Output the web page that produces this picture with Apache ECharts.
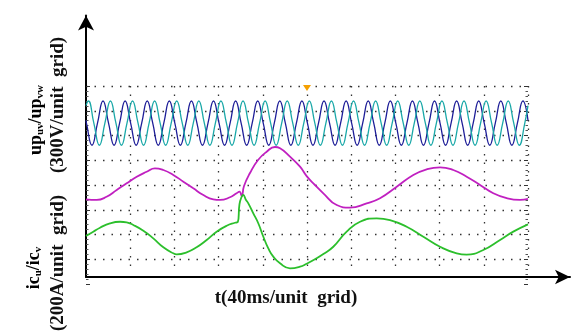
<!DOCTYPE html>
<html>
<head>
<meta charset="utf-8">
<script src="https://cdn.jsdelivr.net/npm/echarts@6/dist/echarts.min.js"></script>
<style>
  html, body { margin: 0; padding: 0; background: #fff; }
  #chart { width: 577px; height: 333px; }
</style>
</head>
<body>
<div id="chart"></div>
<script>
// time in ms (40 ms per grid), voltages in V, currents in A
const timeMin = 0
const timeMax = 400
const timeStep = 40

// line voltage up_uv  [t, V]
const upUv = [
  [0, 33],
  [0.4, 0], [5.4, -268], [10.4, 0], [15.4, 268],
  [20.4, 0], [25.4, -268], [30.4, 0], [35.4, 268],
  [40.4, 0], [45.4, -268], [50.4, 0], [55.4, 268],
  [60.4, 0], [65.4, -268], [70.4, 0], [75.4, 268],
  [80.4, 0], [85.4, -268], [90.4, 0], [95.4, 268],
  [100.4, 0], [105.4, -268], [110.4, 0], [115.4, 268],
  [120.4, 0], [125.4, -268], [130.4, 0], [135.4, 268],
  [140.4, 0], [145.4, -268], [150.4, 0], [155.4, 268],
  [160.4, 0], [165.4, -268], [170.4, 0], [175.4, 268],
  [180.4, 0], [185.4, -268], [190.4, 0], [195.4, 268],
  [200.4, 0], [205.4, -268], [210.4, 0], [215.4, 268],
  [220.4, 0], [225.4, -268], [230.4, 0], [235.4, 268],
  [240.4, 0], [245.4, -268], [250.4, 0], [255.4, 268],
  [260.4, 0], [265.4, -268], [270.4, 0], [275.4, 268],
  [280.4, 0], [285.4, -268], [290.4, 0], [295.4, 268],
  [300.4, 0], [305.4, -268], [310.4, 0], [315.4, 268],
  [320.4, 0], [325.4, -268], [330.4, 0], [335.4, 268],
  [340.4, 0], [345.4, -268], [350.4, 0], [355.4, 268],
  [360.4, 0], [365.4, -268], [370.4, 0], [375.4, 268],
  [380.4, 0], [385.4, -268], [390.4, 0], [395.4, 268],
  [400, 34]
]

// line voltage up_vw  [t, V]
const upVw = [
  [0, 212],
  [2.1, 268], [7.1, 0], [12.1, -268], [17.1, 0],
  [22.1, 268], [27.1, 0], [32.1, -268], [37.1, 0],
  [42.1, 268], [47.1, 0], [52.1, -268], [57.1, 0],
  [62.1, 268], [67.1, 0], [72.1, -268], [77.1, 0],
  [82.1, 268], [87.1, 0], [92.1, -268], [97.1, 0],
  [102.1, 268], [107.1, 0], [112.1, -268], [117.1, 0],
  [122.1, 268], [127.1, 0], [132.1, -268], [137.1, 0],
  [142.1, 268], [147.1, 0], [152.1, -268], [157.1, 0],
  [162.1, 268], [167.1, 0], [172.1, -268], [177.1, 0],
  [182.1, 268], [187.1, 0], [192.1, -268], [197.1, 0],
  [202.1, 268], [207.1, 0], [212.1, -268], [217.1, 0],
  [222.1, 268], [227.1, 0], [232.1, -268], [237.1, 0],
  [242.1, 268], [247.1, 0], [252.1, -268], [257.1, 0],
  [262.1, 268], [267.1, 0], [272.1, -268], [277.1, 0],
  [282.1, 268], [287.1, 0], [292.1, -268], [297.1, 0],
  [302.1, 268], [307.1, 0], [312.1, -268], [317.1, 0],
  [322.1, 268], [327.1, 0], [332.1, -268], [337.1, 0],
  [342.1, 268], [347.1, 0], [352.1, -268], [357.1, 0],
  [362.1, 268], [367.1, 0], [372.1, -268], [377.1, 0],
  [382.1, 268], [387.1, 0], [392.1, -268], [397.1, 0],
  [400, 212]
]

// current ic_u  [t, A]
const icU = [
  [0, -116], [9.7, -121], [18.6, -95], [27.8, -40], [36.8, 14], [45.9, 67],
  [54.9, 107], [62.4, 135], [70.0, 121], [79.0, 81], [88.1, 27], [97.1, -27],
  [106.2, -81], [115.2, -116], [121.3, -121], [130.3, -99], [136.3, -67], [138.9, -53],
  [140.9, -89], [143.0, -8], [148.4, 97], [155.7, 202], [163.5, 269], [171.0, 307],
  [175.6, 297], [184.6, 229], [193.7, 148], [199.7, 72], [207.2, 0], [214.8, -67],
  [226.9, -162], [238.9, -183], [254.0, -148], [266.1, -107], [281.2, -14], [296.2, 81],
  [308.3, 127], [320.4, 143], [332.4, 121], [344.5, 67], [356.6, 0], [368.6, -67],
  [380.7, -107], [392.8, -121], [400, -113]
]

// current ic_v  [t, A]
const icV = [
  [0, -12], [6.6, 23], [12.7, 55], [21.7, 90], [30.8, 103], [36.8, 98],
  [42.8, 77], [51.9, 31], [60.9, -31], [70.0, -103], [79.0, -152], [82.1, -160],
  [91.1, -144], [100.1, -103], [109.2, -44], [118.2, 23], [127.3, 71], [134.8, 95],
  [137.4, 101], [138.9, 246], [140.9, 305], [142.3, 319], [144.8, 279], [146.9, 252],
  [151.4, 171], [155.9, 91], [160.5, -18], [165.0, -112], [169.5, -179], [175.6, -233],
  [184.6, -273], [193.7, -260], [199.7, -236], [207.2, -200], [214.8, -158], [223.8, -99],
  [235.9, 23], [248.0, 103], [263.1, 131], [275.1, 117], [290.2, 63], [305.3, -18],
  [320.4, -99], [335.5, -152], [344.5, -162], [359.6, -125], [374.7, -44], [386.7, 23],
  [400, 82]
]

const chart = echarts.init(document.getElementById('chart'))

const dotLine = { color: '#333', width: 1.3, type: [1.5, 7] }
const serif = '"Liberation Serif", "Times New Roman", serif'
const labelRich = {
  b: { fontFamily: serif, fontWeight: 'bold', fontSize: 18, color: '#111' },
  s: { fontFamily: serif, fontWeight: 'bold', fontSize: 11, color: '#111', padding: [9, 0, 0, 0] }
}

function hiddenY(gridIndex, min, max, interval) {
  return {
    type: 'value', gridIndex: gridIndex, min: min, max: max, interval: interval,
    show: false, splitLine: { show: false }
  }
}

chart.setOption({
  animation: false,
  grid: [
    { left: 86, right: 49, top: 86, bottom: 49 },   // scope screen + traces
    { left: 86, right: 7, top: 15.5, bottom: 56 },  // arrow axes
    { left: 86, right: 49, top: 86, bottom: 61 }    // vertical grid dots
  ],
  xAxis: [
    {
      type: 'value', gridIndex: 0, min: timeMin, max: timeMax, interval: timeStep,
      axisLine: { show: false }, axisTick: { show: false }, axisLabel: { show: false },
      splitLine: { show: false }
    },
    {
      type: 'value', gridIndex: 1, min: 0, max: 1,
      axisLine: { onZero: false, symbol: ['none', 'arrow'], symbolSize: [11, 15], lineStyle: { color: '#000', width: 2 } },
      axisTick: { show: false }, axisLabel: { show: false }, splitLine: { show: false }
    },
    {
      type: 'value', gridIndex: 2, min: timeMin, max: timeMax, interval: timeStep,
      axisLine: { show: false }, axisTick: { show: false }, axisLabel: { show: false },
      splitLine: { show: true, showMinLine: false, lineStyle: dotLine }
    }
  ],
  yAxis: [
    {
      // voltage channel, 300 V per grid
      type: 'value', gridIndex: 0, min: -1950, max: 450, interval: 300,
      axisLine: { show: false }, axisLabel: { show: false },
      axisTick: { show: true, inside: true, length: 4, lineStyle: { color: '#333' } },
      minorTick: { show: true, splitNumber: 5, length: 2.5, lineStyle: { color: '#555' } },
      splitLine: { show: true, showMinLine: false, lineStyle: dotLine }
    },
    hiddenY(0, -800, 800, 200),   // ic_u channel, 200 A per grid
    hiddenY(0, -400, 1200, 200),  // ic_v channel, 200 A per grid
    {
      type: 'value', gridIndex: 0, min: -1950, max: 450, interval: 300, position: 'right',
      axisLine: { show: false }, axisLabel: { show: false },
      axisTick: { show: true, inside: true, length: 4, lineStyle: { color: '#333' } },
      minorTick: { show: true, splitNumber: 5, length: 2.5, lineStyle: { color: '#555' } },
      splitLine: { show: false }
    },
    {
      type: 'value', gridIndex: 1, min: 0, max: 1,
      axisLine: { show: true, onZero: false, symbol: ['none', 'arrow'], symbolSize: [12, 15], lineStyle: { color: '#000', width: 2 } },
      axisTick: { show: false }, axisLabel: { show: false }, splitLine: { show: false }
    },
    hiddenY(2, 0, 1, 1)
  ],
  series: [
    {
      name: 'up_uv', type: 'line', xAxisIndex: 0, yAxisIndex: 0, data: upUv,
      smooth: 0.5, symbol: 'none', lineStyle: { color: '#1e1e98', width: 1.3 },
      markPoint: {
        symbol: 'triangle', symbolRotate: 180, symbolSize: [8, 6], symbolOffset: [0, 2],
        itemStyle: { color: '#f5a000' }, label: { show: false },
        data: [{ coord: [200, 450] }]
      }
    },
    {
      name: 'up_vw', type: 'line', xAxisIndex: 0, yAxisIndex: 0, data: upVw,
      smooth: 0.5, symbol: 'none', lineStyle: { color: '#1aa8a8', width: 1.3 }
    },
    {
      name: 'ic_u', type: 'line', xAxisIndex: 0, yAxisIndex: 1, data: icU,
      smooth: 0.5, symbol: 'none', lineStyle: { color: '#c020c0', width: 1.8 }
    },
    {
      name: 'ic_v', type: 'line', xAxisIndex: 0, yAxisIndex: 2, data: icV,
      smooth: 0.5, symbol: 'none', lineStyle: { color: '#2cbf2c', width: 1.8 }
    }
  ],
  graphic: [
    {
      type: 'text', x: 36, y: 120, rotation: Math.PI / 2,
      style: { text: '{b|up}{s|uv}{b|/up}{s|vw}', rich: labelRich, align: 'center', verticalAlign: 'middle' }
    },
    {
      type: 'text', x: 58, y: 105, rotation: Math.PI / 2,
      style: { text: '(300V/unit  grid)', font: 'bold 19px ' + serif, fill: '#111', align: 'center', verticalAlign: 'middle' }
    },
    {
      type: 'text', x: 34, y: 268, rotation: Math.PI / 2,
      style: { text: '{b|ic}{s|u}{b|/ic}{s|v}', rich: labelRich, align: 'center', verticalAlign: 'middle' }
    },
    {
      type: 'text', x: 58, y: 263, rotation: Math.PI / 2,
      style: { text: '(200A/unit  grid)', font: 'bold 19px ' + serif, fill: '#111', align: 'center', verticalAlign: 'middle' }
    },
    {
      type: 'text', x: 286, y: 298,
      style: { text: 't(40ms/unit  grid)', font: 'bold 19px ' + serif, fill: '#111', align: 'center', verticalAlign: 'middle' }
    }
  ]
})
</script>
</body>
</html>
